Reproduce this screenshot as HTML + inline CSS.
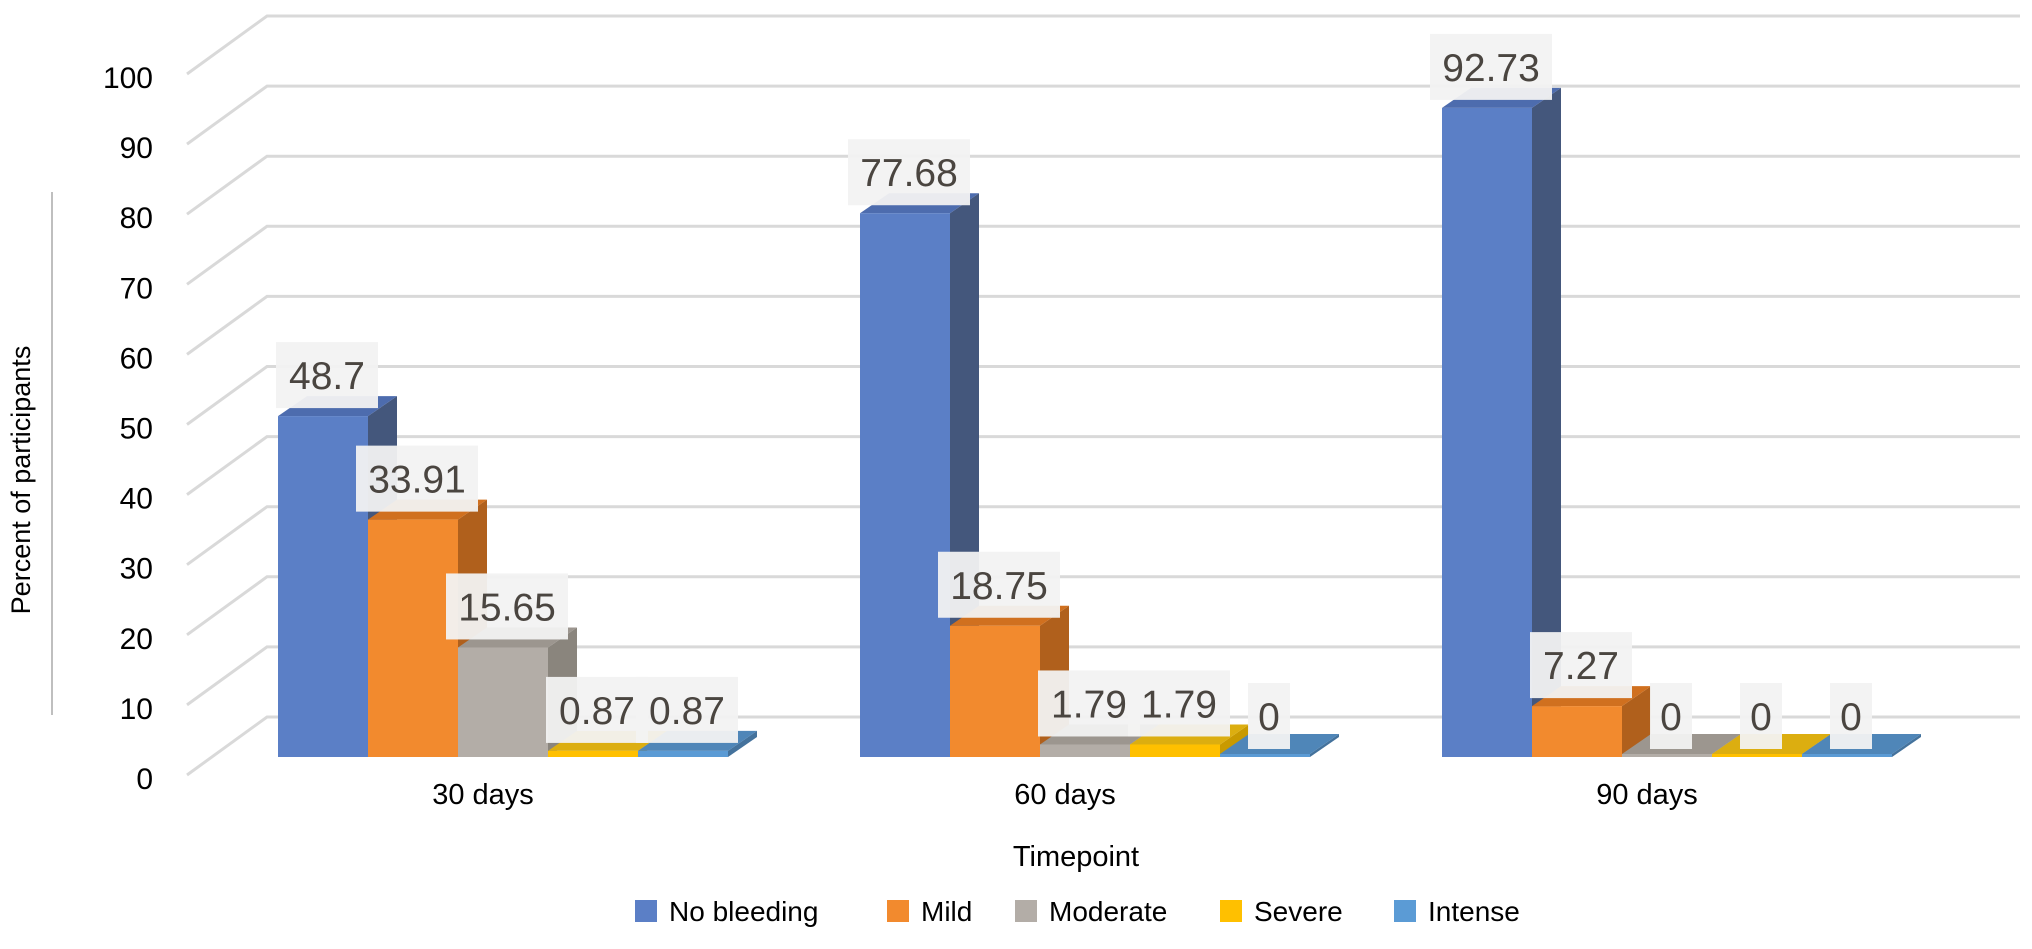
<!DOCTYPE html>
<html><head><meta charset="utf-8"><style>
html,body{margin:0;padding:0;background:#fff;}
svg{display:block;font-family:"Liberation Sans",sans-serif;}
</style></head><body>
<svg id="chart" width="2032" height="949" viewBox="0 0 2032 949" xmlns="http://www.w3.org/2000/svg">
<g id="grid"></g>
<g id="yticks"></g>
<g id="bars"></g>
<g id="labels"></g>
<g id="xlabels"></g>
<line x1="52" y1="192" x2="52" y2="715" stroke="#bfbfbf" stroke-width="2"/>
<text x="0" y="0" transform="translate(30,480) rotate(-90)" text-anchor="middle" font-size="27" fill="#000">Percent of participants</text>
<text x="1076" y="866" text-anchor="middle" font-size="29" fill="#000">Timepoint</text>
<g id="legend"></g>
</svg>
<script>
const categories = ["30 days", "60 days", "90 days"];
const seriesNames = ["No bleeding", "Mild", "Moderate", "Severe", "Intense"];
const noBleeding = [48.7, 77.68, 92.73];
const mild = [33.91, 18.75, 7.27];
const moderate = [15.65, 1.79, 0];
const severe = [0.87, 1.79, 0];
const intense = [0.87, 0, 0];
const yTicks = [0, 10, 20, 30, 40, 50, 60, 70, 80, 90, 100];

const NS = "http://www.w3.org/2000/svg";
const series = [noBleeding, mild, moderate, severe, intense];
const fronts = ["#5b7fc6", "#f28a2e", "#b3ada7", "#ffc000", "#5b9bd5"];
const sides = ["#44577c", "#b0601c", "#8a857d", "#c99a00", "#44729c"];
const tops = ["#4d6cae", "#d0701f", "#9c968f", "#dcae10", "#4f86b8"];

function backY(v){ return 717 - 7.01 * v; }
function frontY(v){ return backY(v) + 58; }
const BASE = 757, PER = 7.0;
function barTop(v){ return BASE - v * PER; }
function groupX(i){ return 278 + 582 * i; }
const BW = 90, DX = 29, DY = -20;

function mk(tag, attrs, parent){
  const e = document.createElementNS(NS, tag);
  for (const k in attrs) e.setAttribute(k, attrs[k]);
  parent.appendChild(e);
  return e;
}
const grid = document.getElementById('grid');
const yt = document.getElementById('yticks');
yTicks.forEach(v => {
  const p = mk('polyline', {points: `187,${frontY(v)} 267,${backY(v)} 2020,${backY(v)}`, fill:'none', stroke:'#d9d9d9', 'stroke-width':3}, grid);
  
  
  const t = mk('text', {x:153, y:frontY(v) + 14, 'text-anchor':'end', 'font-size':30, fill:'#000'}, yt);
  t.textContent = v;
  
  
});

const bars = document.getElementById('bars');
const labels = document.getElementById('labels');
categories.forEach((c, gi) => {
  series.forEach((s, si) => {
    const v = s[gi];
    const x = groupX(gi) + si * BW;
    const top = barTop(v);
    const g = mk('g', {}, bars);
    
    
    const h = Math.max(BASE - top, 3);
    const t2 = BASE - h;
    mk('polygon', {points:`${x+BW},${t2} ${x+BW+DX},${t2+DY} ${x+BW+DX},${BASE+DY} ${x+BW},${BASE}`, fill:sides[si]}, g);
    mk('polygon', {points:`${x},${t2} ${x+DX},${t2+DY} ${x+BW+DX},${t2+DY} ${x+BW},${t2}`, fill:tops[si]}, g);
    mk('rect', {x:x, y:t2, width:BW, height:h, fill:fronts[si]}, g);
  });
});
categories.forEach((c, gi) => {
  series.forEach((s, si) => {
    const v = s[gi];
    const x = groupX(gi) + si * BW;
    const cx = x + BW / 2 + 4;
    const top = barTop(v);
    const txt = String(v);
    const w = txt.length * 20 + 22;
    const lg = mk('g', {}, labels);
    
    
    mk('rect', {x:cx - w/2, y:top - 74, width:w, height:66, fill:'#f2f2f2', 'fill-opacity':0.95}, lg);
    const t = mk('text', {x:cx, y:top - 27, 'text-anchor':'middle', 'font-size':39, fill:'#4a4540'}, lg);
    t.textContent = txt;
  });
});
const xl = document.getElementById('xlabels');
categories.forEach((c, gi) => {
  const t = mk('text', {x:groupX(gi) + 205, y:804, 'text-anchor':'middle', 'font-size':29, fill:'#000'}, xl);
  t.textContent = c;
  
  
});
const leg = document.getElementById('legend');
const legX = [635, 887, 1015, 1220, 1394];
seriesNames.forEach((n, i) => {
  const g = mk('g', {}, leg);
  
  
  mk('rect', {x:legX[i], y:900, width:22, height:22, fill:fronts[i]}, g);
  const t = mk('text', {x:legX[i] + 34, y:921, 'font-size':28, fill:'#000'}, g);
  t.textContent = n;
});
</script>
</body></html>
